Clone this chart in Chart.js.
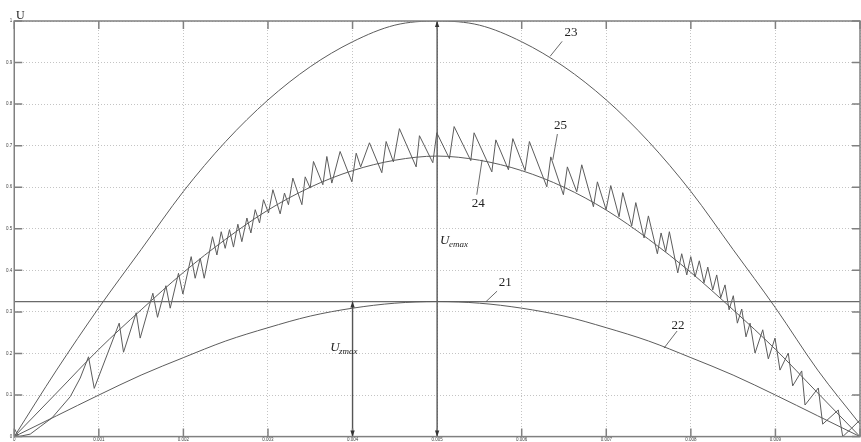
<!DOCTYPE html>
<html>
<head>
<meta charset="utf-8">
<script src="https://cdn.jsdelivr.net/npm/chart.js@4.4.1/dist/chart.umd.min.js"></script>
<style>
  html, body { margin: 0; padding: 0; background: #fff; }
  #wrap { width: 861px; height: 442px; }
</style>
</head>
<body>
<div id="wrap"><canvas id="chart" width="861" height="442"></canvas></div>
<script>
// ── Data (time in ms, voltage in relative units) ──
const tGrid = [0, 0.5, 1, 1.5, 2, 2.5, 3, 3.5, 4, 4.5, 5, 5.5, 6, 6.5, 7, 7.5, 8, 8.5, 9, 9.5, 10];
const u23 = [0, 0.16, 0.31, 0.45, 0.59, 0.71, 0.81, 0.89, 0.95, 0.99, 1.00, 0.99, 0.95, 0.89, 0.81, 0.71, 0.59, 0.45, 0.31, 0.16, 0.03];
const u24 = [0, 0.105, 0.21, 0.305, 0.395, 0.475, 0.545, 0.60, 0.64, 0.665, 0.675, 0.665, 0.64, 0.60, 0.545, 0.475, 0.395, 0.305, 0.21, 0.105, 0];
const u22 = [0, 0.05, 0.10, 0.148, 0.19, 0.23, 0.262, 0.29, 0.309, 0.321, 0.325, 0.321, 0.309, 0.29, 0.262, 0.23, 0.19, 0.148, 0.10, 0.05, 0];
const u21 = 0.325;

// ripple curve 25: vertices of the sawtooth
const t25 = [0, 0.05, 0.189, 0.307, 0.446, 0.662, 0.78, 0.878, 0.946, 1.241, 1.292, 1.442, 1.489, 1.639, 1.694,
  1.793, 1.844, 1.942, 1.994, 2.092, 2.139, 2.199, 2.246, 2.344, 2.396, 2.447, 2.494, 2.545, 2.592, 2.644,
  2.691, 2.751, 2.798, 2.849, 2.900, 2.947, 3.006, 3.058, 3.144, 3.195, 3.242, 3.294, 3.401, 3.440, 3.499,
  3.538, 3.649, 3.696, 3.755, 3.853, 3.992, 4.043, 4.096, 4.200, 4.346, 4.397, 4.483, 4.554, 4.752, 4.791,
  4.949, 4.996, 5.145, 5.201, 5.398, 5.437, 5.647, 5.694, 5.843, 5.895, 6.040, 6.091, 6.297, 6.344, 6.493,
  6.540, 6.651, 6.710, 6.848, 6.895, 6.998, 7.053, 7.151, 7.195, 7.301, 7.349, 7.447, 7.498, 7.604, 7.648,
  7.703, 7.746, 7.845, 7.892, 7.952, 7.999, 8.050, 8.100, 8.156, 8.200, 8.259, 8.306, 8.353, 8.404, 8.452,
  8.502, 8.550, 8.602, 8.652, 8.700, 8.759, 8.850, 8.916, 8.995, 9.054, 9.152, 9.204, 9.311, 9.350, 9.507,
  9.559, 9.743, 9.796, 9.9, 10.0];
const u25 = [0.02, 0, 0.006, 0.024, 0.045, 0.096, 0.141, 0.192, 0.116, 0.273, 0.203, 0.298, 0.237, 0.345, 0.287,
  0.363, 0.309, 0.393, 0.343, 0.433, 0.381, 0.429, 0.381, 0.481, 0.437, 0.493, 0.453, 0.498, 0.456, 0.511,
  0.469, 0.526, 0.490, 0.546, 0.514, 0.570, 0.538, 0.594, 0.536, 0.586, 0.558, 0.622, 0.558, 0.625, 0.598,
  0.662, 0.606, 0.674, 0.610, 0.686, 0.613, 0.682, 0.649, 0.707, 0.635, 0.710, 0.661, 0.741, 0.649, 0.724,
  0.659, 0.731, 0.669, 0.746, 0.664, 0.731, 0.637, 0.714, 0.642, 0.717, 0.640, 0.710, 0.601, 0.673, 0.582,
  0.649, 0.589, 0.654, 0.553, 0.613, 0.546, 0.604, 0.529, 0.587, 0.507, 0.563, 0.478, 0.531, 0.440, 0.490,
  0.445, 0.493, 0.394, 0.440, 0.389, 0.433, 0.384, 0.423, 0.370, 0.408, 0.353, 0.389, 0.334, 0.365, 0.305,
  0.339, 0.273, 0.307, 0.240, 0.273, 0.201, 0.257, 0.187, 0.237, 0.160, 0.201, 0.122, 0.158, 0.076, 0.117,
  0.030, 0.064, 0, 0.02, 0.04];

// amplitude arrows (U_zmax at 4 ms, U_emax at 5 ms)
const arrowT = [4, 5];
const arrowTop = [0.325, 1];

const xTickLabels = ['0', '0.001', '0.002', '0.003', '0.004', '0.005', '0.006', '0.007', '0.008', '0.009', ''];
const yTickLabels = ['0', '0.1', '0.2', '0.3', '0.4', '0.5', '0.6', '0.7', '0.8', '0.9', '1'];

const pts = (ts, us) => ts.map((t, i) => ({ x: t / 1000, y: us[i] }));

const LINE = '#5c5c5c';
const FRAME = '#808080';
const INK = '#222';

// ── Labels and leader lines (data coordinates, ms / U) ──
const notes = [
  { text: '23', t: 6.584, u: 0.972, from: [6.478, 0.951], to: [6.336, 0.915] },
  { text: '25', t: 6.460, u: 0.749, from: [6.422, 0.728], to: [6.368, 0.666] },
  { text: '24', t: 5.485, u: 0.561, from: [5.469, 0.582], to: [5.532, 0.666] },
  { text: '21', t: 5.804, u: 0.370, from: [5.709, 0.350], to: [5.579, 0.325] },
  { text: '22', t: 7.849, u: 0.266, from: [7.837, 0.254], to: [7.683, 0.213] }
];
const subLabels = [
  { main: 'U', sub: 'emax', t: 5.035, u: 0.464 },
  { main: 'U', sub: 'zmax', t: 3.735, u: 0.206 }
];

function arrowHead(ctx, x, y, dir) {
  ctx.beginPath();
  ctx.moveTo(x, y);
  ctx.lineTo(x - 2.2, y - dir * 6);
  ctx.lineTo(x + 2.2, y - dir * 6);
  ctx.closePath();
  ctx.fill();
}

const decorPlugin = {
  id: 'decor',
  afterDatasetsDraw(chart) {
    const { ctx, chartArea: a, scales: { x, y } } = chart;
    const px = t => x.getPixelForValue(t / 1000);
    const py = u => y.getPixelForValue(u);
    ctx.save();

    // frame + inward ticks
    ctx.strokeStyle = FRAME;
    ctx.lineWidth = 1.5;
    ctx.strokeRect(a.left, a.top, a.right - a.left, a.bottom - a.top);
    ctx.beginPath();
    x.ticks.forEach(tk => {
      const X = x.getPixelForValue(tk.value);
      ctx.moveTo(X, a.bottom); ctx.lineTo(X, a.bottom - 8);
      ctx.moveTo(X, a.top); ctx.lineTo(X, a.top + 8);
    });
    y.ticks.forEach(tk => {
      const Y = y.getPixelForValue(tk.value);
      ctx.moveTo(a.left, Y); ctx.lineTo(a.left + 8, Y);
      ctx.moveTo(a.right, Y); ctx.lineTo(a.right - 8, Y);
    });
    ctx.stroke();

    // arrow heads on amplitude arrows
    ctx.fillStyle = '#333';
    arrowT.forEach((t, i) => {
      arrowHead(ctx, px(t), py(arrowTop[i]), -1);
      arrowHead(ctx, px(t), py(0), 1);
    });

    // curve numbers with leaders
    ctx.strokeStyle = '#444';
    ctx.lineWidth = 0.8;
    ctx.fillStyle = INK;
    ctx.font = '13px "Liberation Serif", serif';
    ctx.textAlign = 'center';
    ctx.textBaseline = 'middle';
    notes.forEach(n => {
      ctx.fillText(n.text, px(n.t), py(n.u));
      ctx.beginPath();
      ctx.moveTo(px(n.from[0]), py(n.from[1]));
      ctx.lineTo(px(n.to[0]), py(n.to[1]));
      ctx.stroke();
    });

    // axis name
    ctx.font = '12px "Liberation Serif", serif';
    ctx.textAlign = 'left';
    ctx.textBaseline = 'alphabetic';
    ctx.fillText('U', 16, 19);

    // U_emax, U_zmax
    subLabels.forEach(s => {
      const X = px(s.t), Y = py(s.u);
      ctx.font = 'italic 13px "Liberation Serif", serif';
      ctx.fillText(s.main, X, Y);
      const w = ctx.measureText(s.main).width;
      ctx.font = 'italic 9px "Liberation Serif", serif';
      ctx.fillText(s.sub, X + w - 0.5, Y + 3);
    });
    ctx.restore();
  }
};

const curve = (data, extra = {}) => Object.assign({
  data, borderColor: LINE, borderWidth: 1, pointRadius: 0, fill: false,
  cubicInterpolationMode: 'monotone'
}, extra);

new Chart(document.getElementById('chart'), {
  type: 'line',
  data: {
    datasets: [
      curve(pts(tGrid, u23)),
      curve(pts(tGrid, u24)),
      curve(pts(tGrid, u22)),
      curve(pts([0, 10], [u21, u21]), { borderColor: '#6a6a6a', borderWidth: 1.3 }),
      curve(pts(t25, u25), { cubicInterpolationMode: 'default', tension: 0 }),
      ...arrowT.map((t, i) => curve(pts([t, t], [0, arrowTop[i]]), { borderColor: '#555', borderWidth: 1.4 }))
    ]
  },
  options: {
    responsive: false,
    animation: false,
    devicePixelRatio: 1,
    layout: { padding: { left: 4, right: 1, top: 21, bottom: 0 } },
    plugins: { legend: { display: false }, tooltip: { enabled: false } },
    scales: {
      x: {
        type: 'linear', min: 0, max: 0.01,
        grid: { color: '#c4c4c4', drawTicks: false },
        border: { display: false, dash: [1, 2] },
        ticks: {
          stepSize: 0.001, padding: 0, maxRotation: 0, autoSkip: false,
          color: '#444', font: { family: '"Liberation Sans", sans-serif', size: 4.5 },
          callback: (v, i) => xTickLabels[i] ?? ''
        }
      },
      y: {
        min: 0, max: 1,
        grid: { color: '#c4c4c4', drawTicks: false },
        border: { display: false, dash: [1, 2] },
        ticks: {
          stepSize: 0.1, padding: 2, autoSkip: false,
          color: '#444', font: { family: '"Liberation Sans", sans-serif', size: 4.5 },
          callback: (v, i) => yTickLabels[i] ?? ''
        }
      }
    }
  },
  plugins: [decorPlugin]
});
</script>
</body>
</html>
